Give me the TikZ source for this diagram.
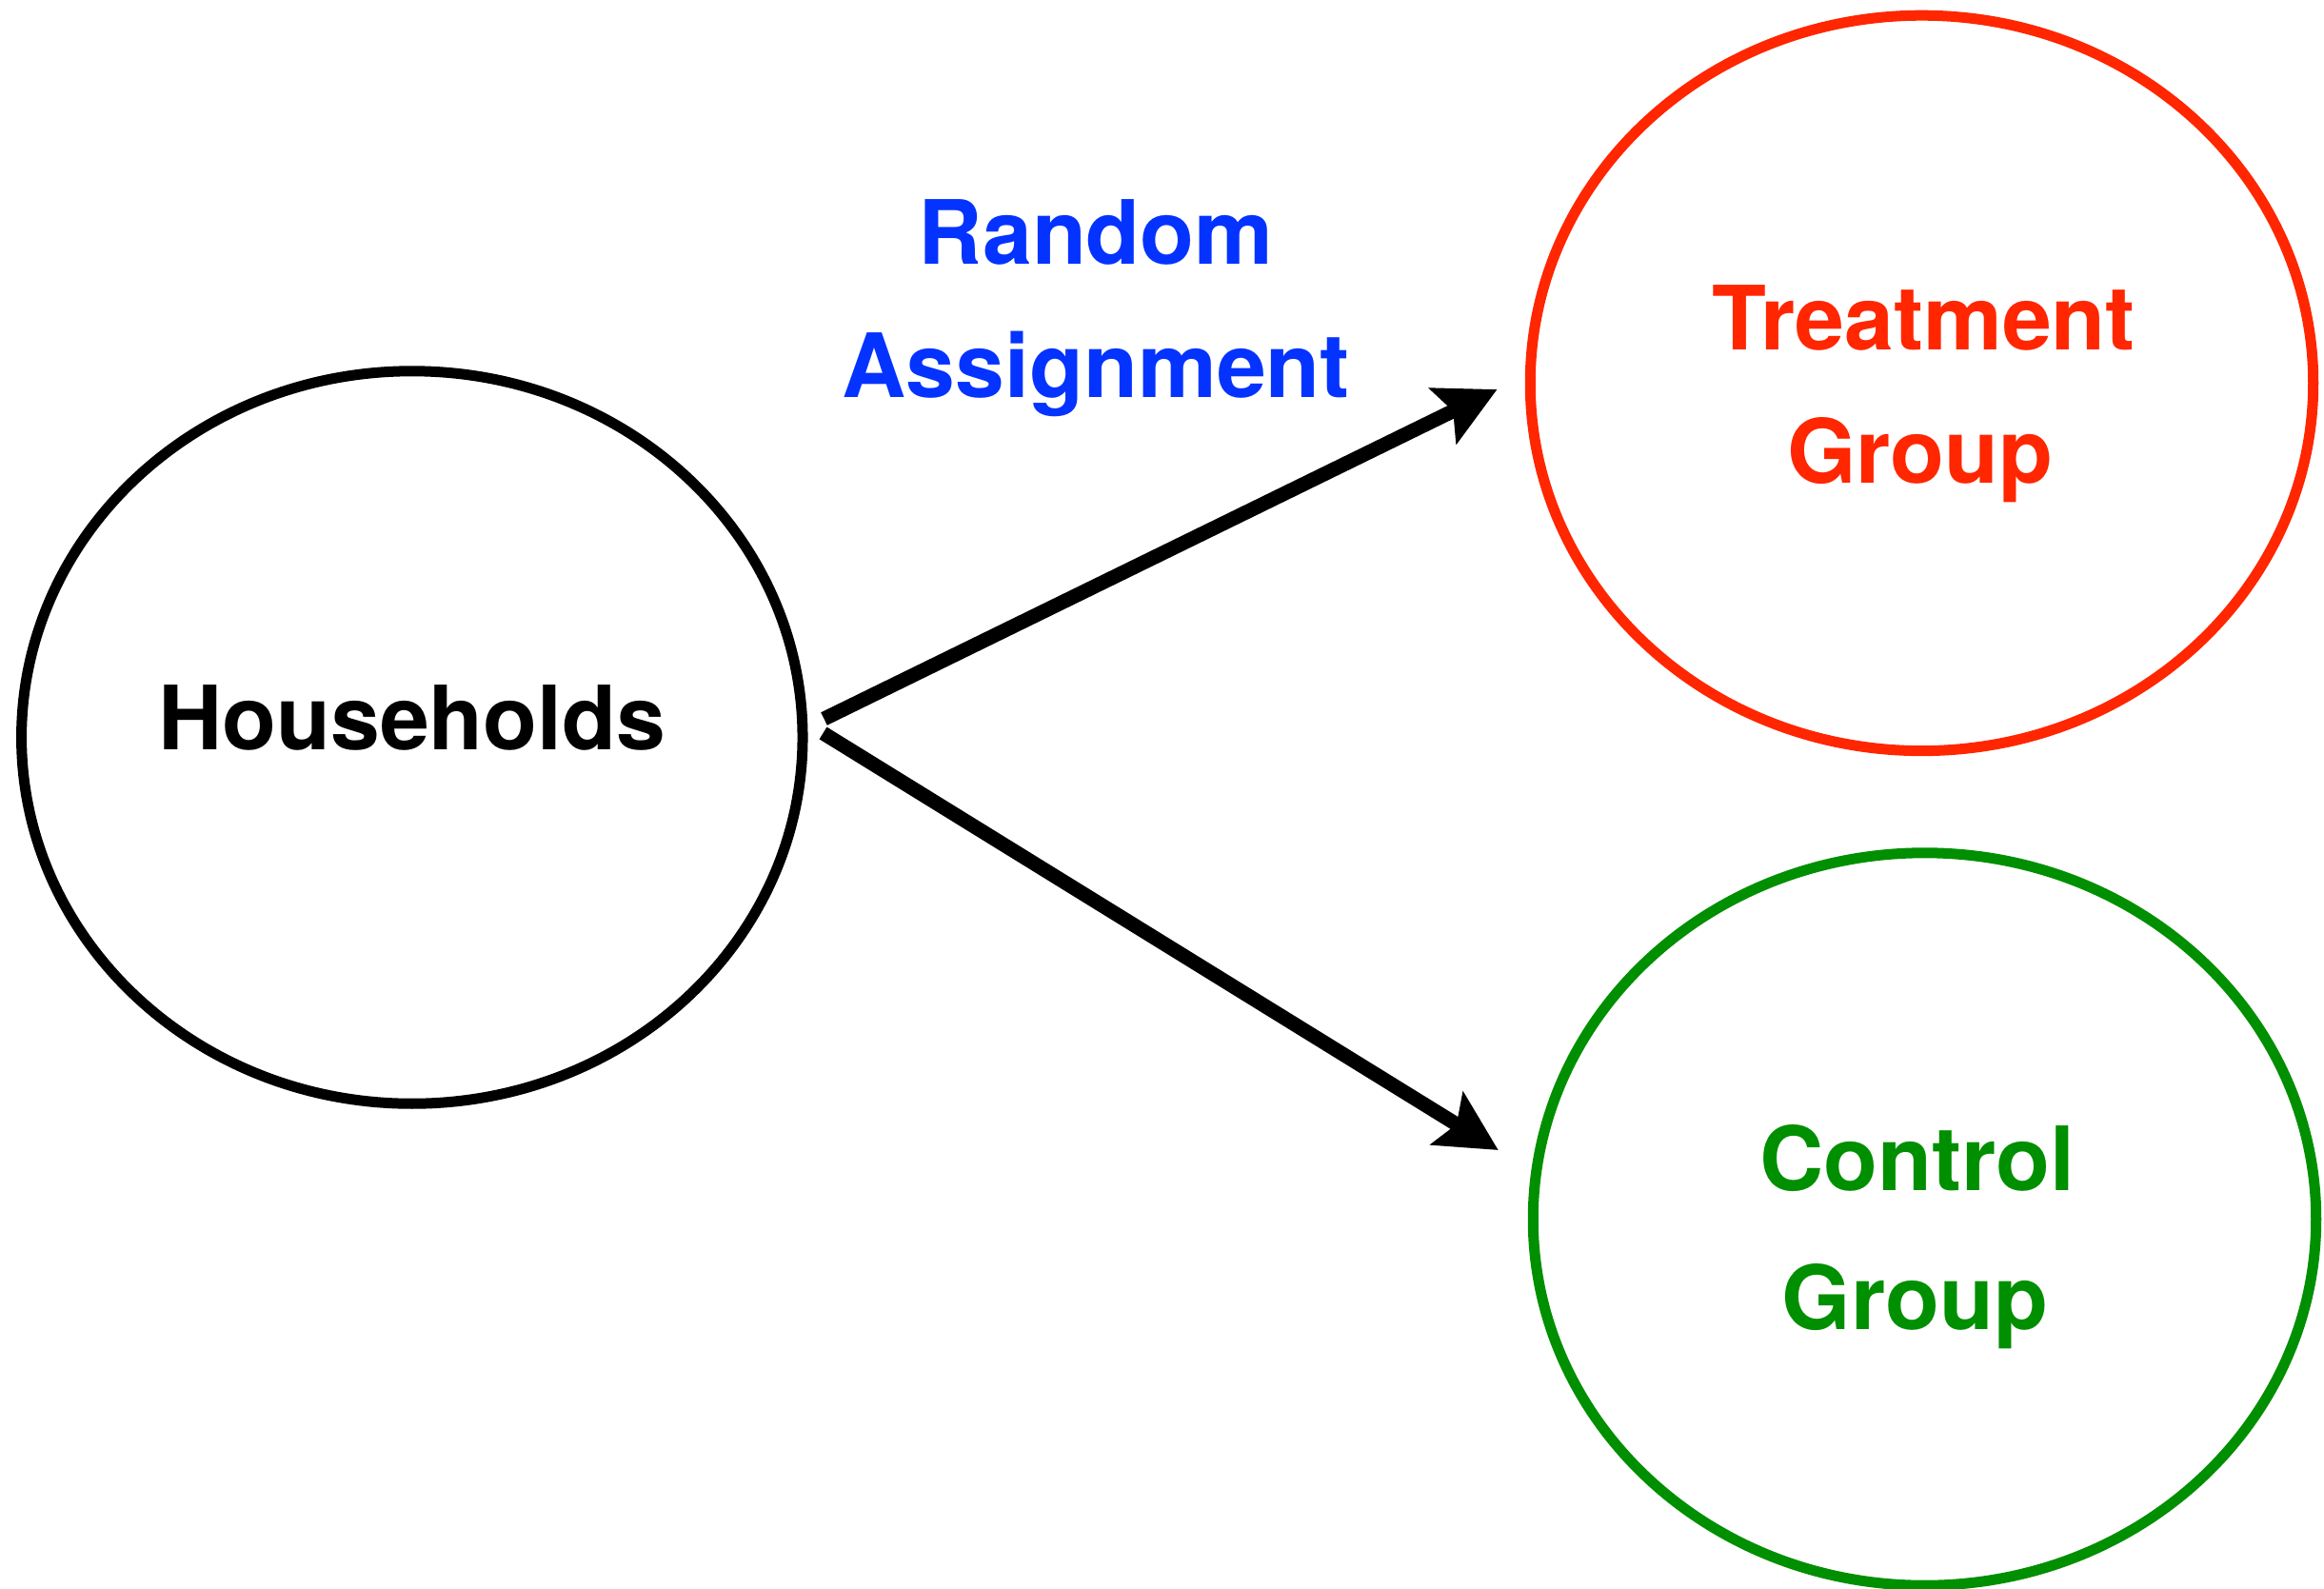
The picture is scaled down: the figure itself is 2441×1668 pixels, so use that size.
\documentclass[tikz,border=0pt]{standalone}
\usepackage{fontspec}
\setmainfont{TeX Gyre Heros}
\usepackage{tikz}
\usetikzlibrary{shapes.geometric,arrows.meta,positioning,calc}

\definecolor{assignblue}{HTML}{0433FF}
\definecolor{treatred}{HTML}{FF2600}
\definecolor{ctrlgreen}{HTML}{008F00}

\tikzset{
  grpellipse/.style={ellipse, draw, line width=0.11cm, inner sep=0pt},
  lbl/.style={anchor=base, inner sep=0pt, font=\fontsize{26.5}{32}\selectfont\bfseries},
  assign/.style={line width=0.15cm, -{Stealth[length=0.63cm, width=0.64cm, inset=0.115cm]}}
}

\begin{document}
\begin{tikzpicture}[x=0.01cm, y=-0.01cm]
    \useasboundingbox (0,0) rectangle (2441,1668);

    % the three groups
    \node[grpellipse, minimum width=8.20cm, minimum height=7.69cm] (hh) at (432.8,774.5) {};
    \node[grpellipse, draw=treatred, minimum width=8.22cm, minimum height=7.72cm] (treat) at (2018.5,402.4) {};
    \node[grpellipse, draw=ctrlgreen, minimum width=8.22cm, minimum height=7.69cm] (ctrl) at (2021.5,1280.5) {};

    % names
    \node[lbl] (hhname) at (432.8,787.7) {Households};
    \node[lbl, text=treatred] (treatname) at (2020.7,367.4) {Treatment};
    \node[lbl, text=treatred] (treatgrp) at (2016.8,507.5) {Group};
    \node[lbl, text=ctrlgreen] (ctrlname) at (2013.7,1250) {Control};
    \node[lbl, text=ctrlgreen] (ctrlgrp) at (2011.4,1396.5) {Group};

    \node[lbl, text=assignblue] (assignA) at (1151.3,277.1) {Random};
    \node[lbl, text=assignblue] (assignB) at (1151.3,417.2) {Assignment};

    % arrows
    \draw[assign] ([shift={(17,-19.5)}]hh.east) -- ([shift={(-29.2,6.6)}]treat.west);
    \draw[assign] ([shift={(16,-4.5)}]hh.east) -- ([shift={(-31,-72.5)}]ctrl.west);
\end{tikzpicture}
\end{document}
